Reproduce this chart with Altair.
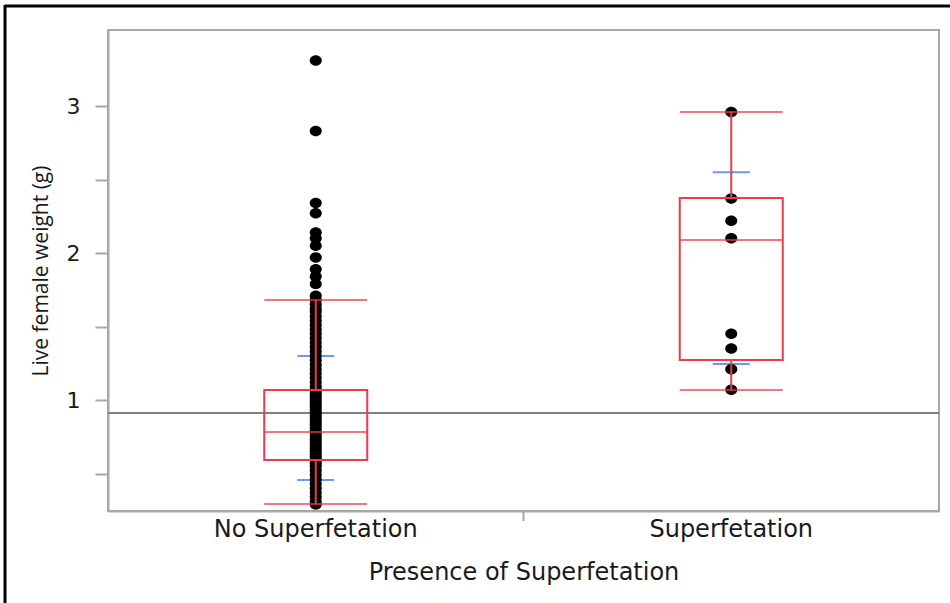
import altair as alt
import pandas as pd

# Groups on the x axis
groups = ["No Superfetation", "Superfetation"]

# Individual live female weights (g)
no_sf_weights = [
    3.31, 2.83, 2.34, 2.27, 2.14, 2.10, 2.05, 1.97, 1.89, 1.84, 1.79,
    1.71, 1.68, 1.65, 1.62, 1.60, 1.57, 1.54, 1.51, 1.48, 1.45, 1.42,
    1.39, 1.36, 1.33, 1.30, 1.27, 1.24, 1.21, 1.18, 1.15, 1.12, 1.09,
    1.07, 1.05, 1.03, 1.01, 0.99, 0.97, 0.95, 0.93, 0.91, 0.89, 0.87,
    0.85, 0.83, 0.81, 0.79, 0.77, 0.75, 0.73, 0.71, 0.69, 0.67, 0.65,
    0.63, 0.61, 0.59, 0.57, 0.55, 0.52, 0.49, 0.46, 0.43, 0.40, 0.37,
    0.34, 0.31, 0.29,
]
sf_weights = [2.96, 2.37, 2.22, 2.10, 1.45, 1.35, 1.21, 1.07]

# Box-plot summaries per group
q1 = [0.592, 1.272]
median = [0.782, 2.088]
q3 = [1.068, 2.374]
whisker_low = [0.293, 1.068]
whisker_high = [1.680, 2.960]
# Blue marks (mean +/- one SD)
blue_low = [0.456, 1.245]
blue_high = [1.300, 2.550]

# Horizontal reference line
ref_value = 0.912

# Y axis ticks: every 0.5, labelled at whole numbers
y_tick_values = [0.5, 1, 1.5, 2, 2.5, 3]

points = pd.DataFrame(
    {
        "group": [groups[0]] * len(no_sf_weights) + [groups[1]] * len(sf_weights),
        "weight": no_sf_weights + sf_weights,
    }
)
stats = pd.DataFrame(
    {
        "group": groups,
        "q1": q1,
        "median": median,
        "q3": q3,
        "lo": whisker_low,
        "hi": whisker_high,
        "blo": blue_low,
        "bhi": blue_high,
    }
)

RED = "#ee3a4c"
BLUE = "#2f6fe6"
FRAME = "#a8a8a8"
WIDE_FONT = "DejaVu Sans"
FONT = "Open Sans"

W, H = 831, 481
BOX_W = 103

# Slightly wide elliptical dot
DOT = "M -1.15 0 A 1.15 1 0 1 1 1.15 0 A 1.15 1 0 1 1 -1.15 0 Z"

x_scale = alt.Scale(domain=groups, paddingInner=0, paddingOuter=0)
x_enc = alt.X(
    "group:N",
    sort=groups,
    scale=x_scale,
    axis=alt.Axis(
        title="Presence of Superfetation",
        labelAngle=0,
        ticks=False,
        labelPadding=6,
        labelLimit=0,
        titlePadding=19,
        labelFont=WIDE_FONT,
        titleFont=WIDE_FONT,
        labelFontSize=24,
        titleFontSize=24,
    ),
)
y_scale = alt.Scale(domain=[0.245, 3.517], nice=False, zero=False)
y_axis = alt.Axis(
    title="Live female weight (g)",
    values=y_tick_values,
    labelExpr="datum.value % 1 == 0 ? format(datum.value, 'd') : ''",
    labelOverlap=False,
    labelBound=False,
    tickSize=13,
    labelPadding=15,
    titlePadding=15,
    labelFont=WIDE_FONT,
    labelFontSize=22,
    titleFont=FONT,
    titleFontSize=21,
    grid=False,
)

ref_line = (
    alt.Chart(pd.DataFrame({"v": [ref_value]}))
    .mark_rule(color="#7f7f7f", strokeWidth=2)
    .encode(y=alt.Y("v:Q", scale=y_scale, axis=y_axis))
)

blue_ticks = (
    alt.Chart(stats)
    .transform_fold(["blo", "bhi"], as_=["kind", "val"])
    .mark_tick(color=BLUE, size=37, thickness=2)
    .encode(x=x_enc, y=alt.Y("val:Q", scale=y_scale, axis=y_axis))
)

dots = (
    alt.Chart(points)
    .mark_point(shape=DOT, filled=True, color="black", size=110, opacity=1)
    .encode(x=x_enc, y=alt.Y("weight:Q", scale=y_scale, axis=y_axis))
)

box = (
    alt.Chart(stats)
    .mark_bar(filled=False, stroke=RED, strokeWidth=2, size=BOX_W)
    .encode(x=x_enc, y=alt.Y("q1:Q", scale=y_scale, axis=y_axis), y2="q3:Q")
)

whisk_low = (
    alt.Chart(stats)
    .mark_rule(color=RED, strokeWidth=2)
    .encode(x=x_enc, y=alt.Y("lo:Q", scale=y_scale, axis=y_axis), y2="q1:Q")
)
whisk_high = (
    alt.Chart(stats)
    .mark_rule(color=RED, strokeWidth=2)
    .encode(x=x_enc, y=alt.Y("q3:Q", scale=y_scale, axis=y_axis), y2="hi:Q")
)

red_ticks = (
    alt.Chart(stats)
    .transform_fold(["lo", "hi", "median"], as_=["kind", "val"])
    .mark_tick(color=RED, size=BOX_W, thickness=2)
    .encode(x=x_enc, y=alt.Y("val:Q", scale=y_scale, axis=y_axis))
)

# Tick on the x axis between the two groups
divider = (
    alt.Chart(pd.DataFrame({"group": [groups[0]]}))
    .mark_rule(color=FRAME, strokeWidth=2)
    .encode(
        x=alt.X("group:N", sort=groups, bandPosition=1, scale=x_scale),
        y=alt.value(H),
        y2=alt.value(H + 10),
    )
)

# Outer frame lines (top and left)
border_top = alt.Chart(pd.DataFrame({"a": [0]})).mark_rule(
    color="black", strokeWidth=3
).encode(x=alt.value(-103), x2=alt.value(850), y=alt.value(-24))
border_left = alt.Chart(pd.DataFrame({"a": [0]})).mark_rule(
    color="black", strokeWidth=3
).encode(x=alt.value(-103), y=alt.value(-25), y2=alt.value(H + 100))

chart = (
    alt.layer(
        ref_line, blue_ticks, dots, box, whisk_low, whisk_high, red_ticks,
        divider, border_top, border_left,
    )
    .properties(
        width=W,
        height=H,
        background="white",
        autosize=alt.AutoSizeParams(type="none"),
        padding={"left": 108, "top": 30, "right": 11, "bottom": 92},
    )
    .configure_view(stroke=FRAME, strokeWidth=2)
    .configure_axis(
        domainColor=FRAME,
        domainWidth=2,
        tickColor=FRAME,
        tickWidth=2,
        labelColor="#1a1a1a",
        titleColor="#1a1a1a",
        titleFontWeight="normal",
    )
)

chart.save("out.html", embed_options={"renderer": "svg", "actions": False})
